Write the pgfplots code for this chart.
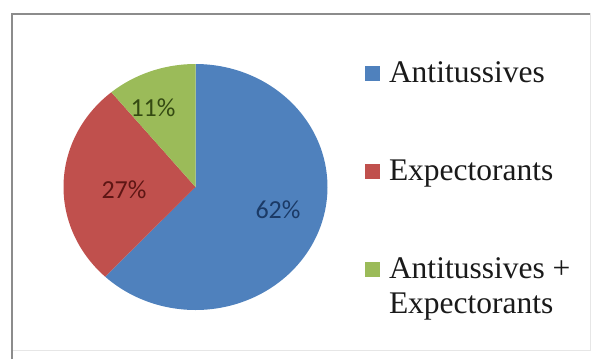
\documentclass[border=0pt]{standalone}
\usepackage{fontspec}
\setmainfont{Liberation Serif}
\newfontfamily\labelfont{Carlito}
\usepackage{pgfplots}
\pgfplotsset{compat=1.18}

\definecolor{antiBlue}{HTML}{4F81BD}
\definecolor{expRed}{HTML}{C0504D}
\definecolor{bothGreen}{HTML}{9BBB59}
\definecolor{antiBlueDark}{HTML}{1B3A66}
\definecolor{expRedDark}{HTML}{5E1614}
\definecolor{bothGreenDark}{HTML}{344A12}
\definecolor{frameDark}{HTML}{8C8C8C}
\definecolor{frameLight}{HTML}{E6E6E6}
\definecolor{legendText}{HTML}{1A1A1A}

% pie centre and radii, in picture units
\def\cx{195.5}\def\cy{187}\def\rx{132}\def\ry{123}

% one wedge: #1 = share already used, #2 = share of this wedge, #3 = colour
\newcommand\pieslice[3]{%
  \pgfmathsetmacro\tA{90-3.6*(#1)}%
  \pgfmathsetmacro\tB{90-3.6*((#1)+(#2))}%
  \edef\doslice{\noexpand\addplot[fill=#3, draw=none, domain=\tB:\tA, samples=120]}%
  \doslice ({\cx+\rx*cos(x)},{\cy-\ry*sin(x)}) -- (axis cs:\cx,\cy) -- cycle;%
}

\begin{document}
\begin{tikzpicture}
\begin{axis}[
  scale only axis, width=592pt, height=359pt,
  xmin=0, xmax=592, ymin=0, ymax=359, y dir=reverse,
  hide axis, clip=false,
  legend cell align=left,
  legend image code/.code={\fill[#1] (0pt,1pt) rectangle (15pt,16pt);},
  legend style={
    at={(axis cs:365,60)}, anchor=north west,
    draw=none, fill=none, inner sep=0pt, outer sep=0pt,
    row sep=69pt, column sep=9pt,
    cells={anchor=base west},
    nodes={inner sep=0pt, text height=22pt, text depth=7pt},
    font=\fontsize{31.5}{35}\selectfont\color{legendText},
  },
]
  % chart frame
  \path (axis cs:0,0) rectangle (axis cs:592,359);
  \draw[frameLight, line width=1pt] (axis cs:590,13) -- (axis cs:590,350) -- (axis cs:12,350);
  \draw[frameDark, line width=2pt] (axis cs:12,359) -- (axis cs:12,13.5) -- (axis cs:590,13.5);

  \pieslice{0}{62}{antiBlue}
  \addlegendentry{Antitussives}
  \pieslice{62}{27}{expRed}
  \addlegendentry{Expectorants}
  \pieslice{89}{11}{bothGreen}
  \addlegendentry{\begin{tabular}[t]{@{}l@{}}Antitussives +\\Expectorants\end{tabular}}

  % data labels
  \node[font=\labelfont\fontsize{26}{26}\selectfont, text=antiBlueDark] at (axis cs:278,210) {62\%};
  \node[font=\labelfont\fontsize{26}{26}\selectfont, text=expRedDark] at (axis cs:124,190) {27\%};
  \node[font=\labelfont\fontsize{26}{26}\selectfont, text=bothGreenDark] at (axis cs:153,108) {11\%};
\end{axis}
\end{tikzpicture}
\end{document}
